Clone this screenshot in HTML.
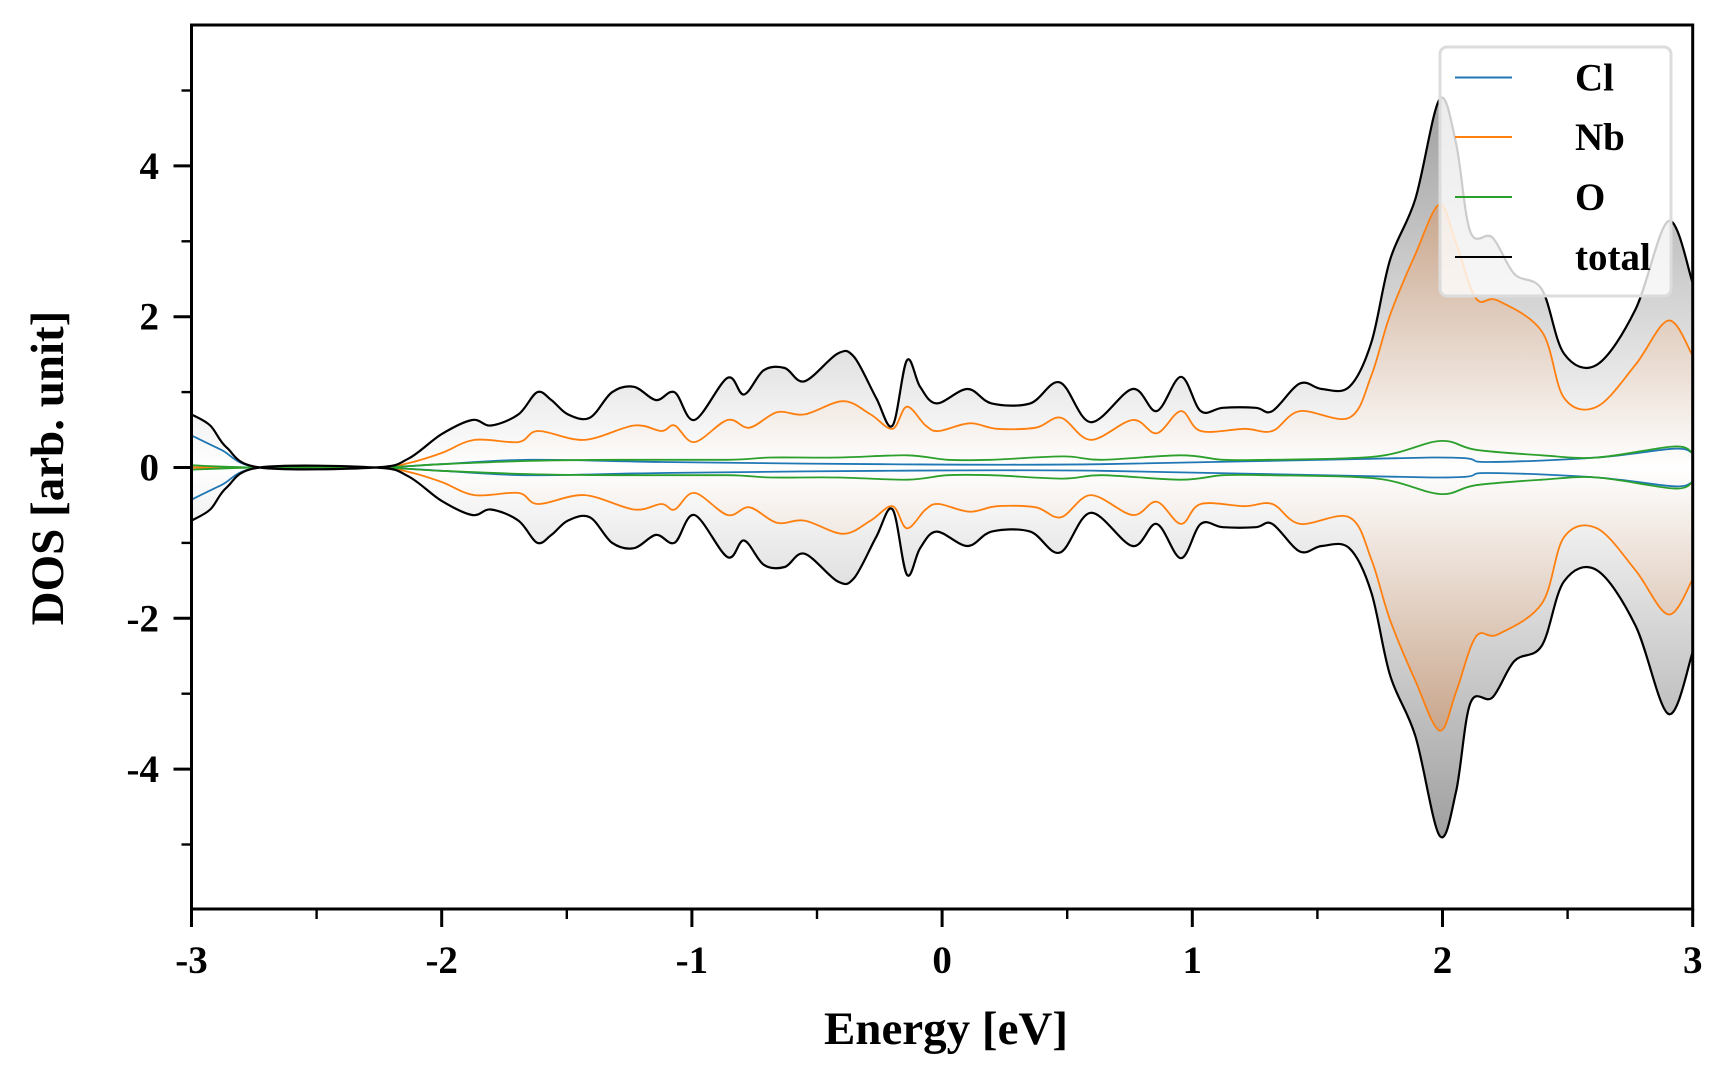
<!DOCTYPE html>
<html><head><meta charset="utf-8"><style>
html,body{margin:0;padding:0;background:#fff;}
svg{display:block;}
text{font-family:"Liberation Serif",serif;font-weight:bold;fill:#000;}
</style></head><body>
<svg id="s" width="1728" height="1080" viewBox="0 0 1728 1080" xmlns="http://www.w3.org/2000/svg">
<defs>
<linearGradient id="gg" gradientUnits="userSpaceOnUse" x1="0" y1="25" x2="0" y2="909">
<stop offset="0" stop-color="#909090"/>
<stop offset="0.12" stop-color="#a8a8a8"/>
<stop offset="0.5" stop-color="#ffffff"/>
<stop offset="0.88" stop-color="#a8a8a8"/>
<stop offset="1" stop-color="#909090"/>
</linearGradient>
<linearGradient id="og" gradientUnits="userSpaceOnUse" x1="0" y1="200" x2="0" y2="735">
<stop offset="0" stop-color="#c9a285"/>
<stop offset="0.5" stop-color="#ffffff"/>
<stop offset="1" stop-color="#c9a285"/>
</linearGradient>
<clipPath id="cp"><rect x="191.5" y="25" width="1501.2" height="884"/></clipPath>
</defs>
<g id="plot" clip-path="url(#cp)"></g>
<g id="axes"></g>
</svg>
<script>
const X0=191.5,X1=1692.7,Y0=467.5,SY=75.4;
function px(E){return X0+(E+3)*(X1-X0)/6;}
function py(v){return Y0-v*SY;}
function conv(a){const r=[];for(let i=0;i<a.length;i+=2){r.push([(a[i]-173)/227.33-3,(423-a[i+1])/68.2]);}return r;}
const total=conv([173,375,190,385,205,405,235,423,340,423,370,415,400,393,428,380,445,385,470,375,487,355,500,362,515,375,535,378,555,355,575,350,595,362,612,355,630,380,660,342,675,357,693,335,712,333,730,345,760,320,775,323,795,360,810,385,823,326,835,350,850,365,878,352,900,365,935,365,962,346,990,382,1028,352,1050,372,1072,341,1090,372,1110,369,1140,369,1155,372,1180,347,1200,352,1225,350,1245,310,1262,235,1285,180,1307,90,1322,130,1335,210,1355,215,1375,248,1400,262,1420,320,1450,330,1485,280,1515,200,1537,256]);
const nb=conv([173,423,230,423,340,423,370,419,400,410,430,398,470,400,488,390,530,398,575,385,600,390,612,385,630,400,660,380,680,387,705,373,730,375,765,363,790,375,810,388,823,368,840,385,852,390,880,383,905,388,940,387,963,378,990,398,1028,380,1050,392,1072,372,1090,390,1130,388,1155,390,1180,372,1225,378,1245,340,1262,285,1285,230,1307,185,1322,220,1340,270,1360,272,1400,300,1420,360,1450,368,1485,330,1515,290,1537,322]);
const o=conv([173,421,235,423,340,423,400,420,480,417,560,416,660,416,700,414,760,414,823,412,860,416,900,416,965,413,1000,416,1072,412,1110,416,1150,416,1250,413,1307,399,1340,407,1400,412,1450,414,1520,404,1537,410]);
const cl=conv([173,394,200,407,235,423,340,423,400,420,480,416,600,418,800,420,1000,420,1300,414,1350,418,1450,414,1520,406,1537,410]);
function pts(d,sg){return d.map(p=>[px(p[0]),py(sg*p[1])]);}
function cr(P){let s="M"+P[0][0].toFixed(1)+","+P[0][1].toFixed(1);
for(let i=0;i<P.length-1;i++){const p0=P[i-1]||P[i],p1=P[i],p2=P[i+1],p3=P[i+2]||P[i+1];
const c1=[p1[0]+(p2[0]-p0[0])/6,p1[1]+(p2[1]-p0[1])/6],c2=[p2[0]-(p3[0]-p1[0])/6,p2[1]-(p3[1]-p1[1])/6];
s+="C"+c1[0].toFixed(1)+","+c1[1].toFixed(1)+" "+c2[0].toFixed(1)+","+c2[1].toFixed(1)+" "+p2[0].toFixed(1)+","+p2[1].toFixed(1);}return s;}
function area(d){const up=pts(d,1),dn=pts(d,-1).reverse();
const a=cr(up),b=cr(dn);return a+"L"+dn[0][0].toFixed(1)+","+dn[0][1].toFixed(1)+b.slice(b.indexOf("C"))+"Z";}
const NS="http://www.w3.org/2000/svg";
function el(par,tag,at,txt){const e=document.createElementNS(NS,tag);for(const k in at)e.setAttribute(k,at[k]);if(txt!==undefined)e.textContent=txt;par.appendChild(e);return e;}
const g=document.getElementById("plot");
el(g,"path",{d:area(total),fill:"url(#gg)",stroke:"none"});
el(g,"path",{d:area(nb),fill:"url(#og)",stroke:"none","fill-opacity":"0.9"});
const series=[[cl,"#1f77b4"],[nb,"#ff7f0e"],[o,"#2ca02c"],[total,"#000"]];
for(const [d,c] of series){for(const sg of [1,-1]){el(g,"path",{d:cr(pts(d,sg)),fill:"none",stroke:c,"stroke-width":c=="#000"?2.2:1.8});}}
const a=document.getElementById("axes");
el(a,"rect",{x:1440,y:47,width:231,height:249,rx:7,fill:"#fff","fill-opacity":"0.8",stroke:"#dcdcdc","stroke-width":3});
const labs=["Cl","Nb","O","total"],ly=[77.5,137,197,257];
for(let i=0;i<4;i++){el(a,"line",{x1:1455,x2:1512,y1:ly[i],y2:ly[i],stroke:series[i][1],"stroke-width":2});
el(a,"text",{x:1575,y:ly[i]+13,"font-size":39},labs[i]);}
el(a,"rect",{x:X0,y:25,width:X1-X0,height:909-25,fill:"none",stroke:"#000","stroke-width":3});
for(let E=-3;E<=3.001;E+=0.5){const x=px(E),maj=Math.abs(E-Math.round(E))<1e-6;
el(a,"line",{x1:x,x2:x,y1:909,y2:909+(maj?18:10),stroke:"#000","stroke-width":maj?3:2.4});
if(maj)el(a,"text",{x:x,y:973,"font-size":39,"text-anchor":"middle"},String(Math.round(E)));}
for(let v=-5;v<=5;v++){const y=py(v),maj=v%2==0;
el(a,"line",{x1:X0,x2:X0-(maj?18:10),y1:y,y2:y,stroke:"#000","stroke-width":maj?3:2.4});
if(maj)el(a,"text",{x:159,y:y+13,"font-size":39,"text-anchor":"end"},String(v));}
el(a,"text",{x:946,y:1044,"font-size":47,"text-anchor":"middle"},"Energy [eV]");
el(a,"text",{x:0,y:0,"font-size":47,"text-anchor":"middle",transform:"translate(63,468) rotate(-90)"},"DOS [arb. unit]");
</script>
</body></html>
